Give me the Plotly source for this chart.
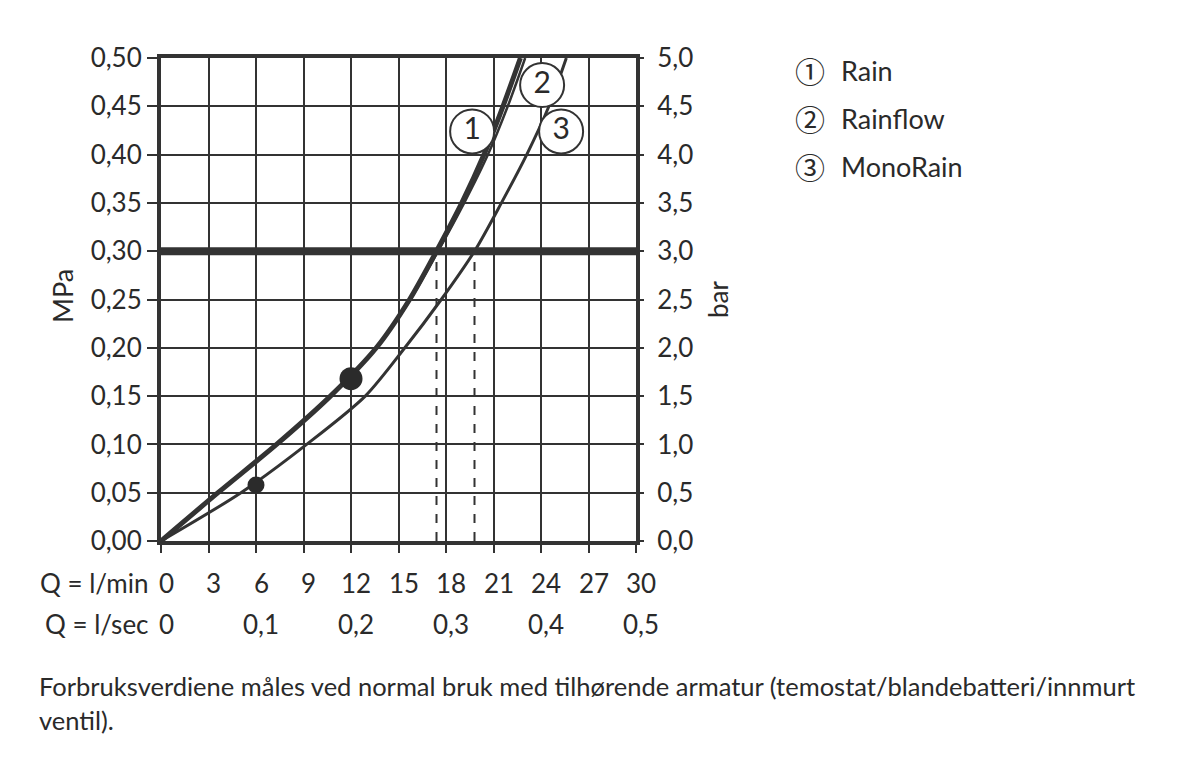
import numpy as np
import plotly.graph_objects as go

# ---------------- data ----------------
flow_lmin_ticks = [0, 3, 6, 9, 12, 15, 18, 21, 24, 27, 30]
flow_lsec_pos = [0, 6, 12, 18, 24, 30]
flow_lsec_labels = ["0", "0,1", "0,2", "0,3", "0,4", "0,5"]
mpa_ticks = [0, 0.05, 0.10, 0.15, 0.20, 0.25, 0.30, 0.35, 0.40, 0.45, 0.50]
mpa_labels = ["0,00", "0,05", "0,10", "0,15", "0,20", "0,25", "0,30", "0,35", "0,40", "0,45", "0,50"]
bar_ticks = [0, 0.5, 1.0, 1.5, 2.0, 2.5, 3.0, 3.5, 4.0, 4.5, 5.0]
bar_labels = ["0,0", "0,5", "1,0", "1,5", "2,0", "2,5", "3,0", "3,5", "4,0", "4,5", "5,0"]

rain_q = [0, 3.6, 7.3, 10.7, 13.6, 15.7, 17.4, 19.0, 20.4, 21.6, 22.7]
rain_p = [0, 0.05, 0.10, 0.15, 0.20, 0.25, 0.30, 0.35, 0.40, 0.45, 0.50]
rainflow_q = [0, 3.6, 7.3, 10.7, 13.6, 15.75, 17.5, 19.15, 20.65, 21.9, 23.0]
rainflow_p = [0, 0.05, 0.10, 0.15, 0.20, 0.25, 0.30, 0.35, 0.40, 0.45, 0.50]
monorain_q = [0, 5.05, 9.2, 12.9, 15.4, 17.7, 19.8, 21.5, 23.1, 24.5, 25.6]
monorain_p = [0, 0.05, 0.10, 0.15, 0.20, 0.25, 0.30, 0.35, 0.40, 0.45, 0.50]

dot_q = [12.0, 6.0]
dot_p = [0.168, 0.058]
dot_size = [23, 17]

label_q = [19.65, 24.07, 25.27]
label_p = [0.424, 0.472, 0.424]
label_text = ["1", "2", "3"]

legend_symbols = ["①", "②", "③"]
legend_names = ["Rain", "Rainflow", "MonoRain"]

ref_pressure = 0.30
footnote_lines = [
    "Forbruksverdiene måles ved normal bruk med tilhørende armatur (temostat/blandebatteri/innmurt",
    "ventil).",
]

# ---------------- geometry helpers ----------------
W, H = 1200, 765
PL, PR, PT, PB = 161, 636, 58, 541  # plot area in pixels


def px_x(px):
    return (px - PL) / (PR - PL)


def px_y(py):
    return (PB - py) / (PB - PT)


INK = "#333333"
TXT = "#2a2a2a"
FONT = "Lato"

fig = go.Figure()

# curves
fig.add_trace(go.Scatter(x=monorain_q, y=monorain_p, mode="lines",
                         line=dict(color=INK, width=3, shape="spline", smoothing=0.8),
                         hoverinfo="skip", showlegend=False))
fig.add_trace(go.Scatter(x=rainflow_q, y=rainflow_p, mode="lines",
                         line=dict(color=INK, width=2.5, shape="spline", smoothing=0.8),
                         hoverinfo="skip", showlegend=False))
fig.add_trace(go.Scatter(x=rain_q, y=rain_p, mode="lines",
                         line=dict(color=INK, width=5, shape="spline", smoothing=0.8),
                         hoverinfo="skip", showlegend=False))

# dots
fig.add_trace(go.Scatter(x=dot_q, y=dot_p, mode="markers",
                         marker=dict(color="#2b2b2b", size=dot_size, opacity=1, line=dict(width=0)),
                         hoverinfo="skip", showlegend=False))

# circled labels
fig.add_trace(go.Scatter(x=label_q, y=label_p, mode="markers+text", text=label_text,
                         textposition="middle center",
                         textfont=dict(family=FONT, size=30, color=TXT),
                         marker=dict(color="white", size=44, opacity=1, line=dict(color=INK, width=2)),
                         hoverinfo="skip", showlegend=False, cliponaxis=False))

# invisible trace for right axis
fig.add_trace(go.Scatter(x=[0], y=[0], yaxis="y2", mode="markers",
                         marker=dict(opacity=0), hoverinfo="skip", showlegend=False))

# reference pressure line and dashed flow markers
fig.add_shape(type="line", xref="x", yref="y", x0=0, x1=30, y0=ref_pressure, y1=ref_pressure,
              line=dict(color=INK, width=8), layer="above")
for q_arr, p_arr in [(rain_q, rain_p), (monorain_q, monorain_p)]:
    qx = float(np.interp(ref_pressure, p_arr, q_arr))
    fig.add_shape(type="line", xref="x", yref="y", x0=qx, x1=qx, y0=0, y1=ref_pressure,
                  line=dict(color=INK, width=2, dash="dash"), layer="below")

annotations = []
TICKF = dict(family=FONT, size=26, color=TXT)
# x tick label rows
for q in flow_lmin_ticks:
    annotations.append(dict(x=q, y=px_y(583), xref="x", yref="paper", text=str(q),
                            xanchor="center", yanchor="middle",
                            showarrow=False, xshift=5, font=TICKF))
for q, lab in zip(flow_lsec_pos, flow_lsec_labels):
    annotations.append(dict(x=q, y=px_y(624), xref="x", yref="paper", text=lab,
                            xanchor="center", yanchor="middle",
                            showarrow=False, xshift=5, font=TICKF))
annotations.append(dict(x=px_x(151), y=px_y(583), xref="paper", yref="paper", text="Q = l/min",
                        xanchor="right", yanchor="middle", showarrow=False, font=TICKF))
annotations.append(dict(x=px_x(151), y=px_y(624), xref="paper", yref="paper", text="Q = l/sec",
                        xanchor="right", yanchor="middle", showarrow=False, font=TICKF))
# axis titles
annotations.append(dict(x=px_x(62), y=px_y(296), xref="paper", yref="paper", text="MPa",
                        xanchor="center", yanchor="middle",
                        textangle=-90, showarrow=False, font=dict(family=FONT, size=27, color=TXT)))
annotations.append(dict(x=px_x(718), y=px_y(300), xref="paper", yref="paper", text="bar",
                        xanchor="center", yanchor="middle",
                        textangle=-90, showarrow=False, font=dict(family=FONT, size=26, color=TXT)))
# legend
for i, (sym, name) in enumerate(zip(legend_symbols, legend_names)):
    yy = px_y(70 + 48 * i)
    annotations.append(dict(x=px_x(810), y=yy, xref="paper", yref="paper", text=sym,
                            xanchor="center", yanchor="middle",
                            showarrow=False, font=dict(family="Noto Sans CJK JP", size=30, color=TXT)))
    annotations.append(dict(x=px_x(839), y=yy, xref="paper", yref="paper", text=name,
                            xanchor="left", yanchor="middle",
                            showarrow=False, font=dict(family=FONT, size=27, color=TXT)))
# footnote
for i, line in enumerate(footnote_lines):
    annotations.append(dict(x=px_x(37), y=px_y(686 + 34 * i), xref="paper", yref="paper", text=line,
                            xanchor="left", yanchor="middle",
                            showarrow=False, font=dict(family=FONT, size=25.5, color=TXT)))

fig.update_layout(
    width=W, height=H, autosize=False,
    margin=dict(l=PL, r=W - PR, t=PT, b=H - PB, pad=0),
    paper_bgcolor="white", plot_bgcolor="white",
    font=dict(family=FONT, size=25, color=TXT),
    showlegend=False,
    annotations=annotations,
    xaxis=dict(range=[0, 30], tickvals=flow_lmin_ticks, showticklabels=False,
               ticks="outside", ticklen=8, tickwidth=2, tickcolor=INK,
               showgrid=True, gridcolor=INK, gridwidth=2, zeroline=False,
               showline=True, linecolor=INK, linewidth=4, mirror=True, fixedrange=True),
    yaxis=dict(range=[0, 0.5], tickvals=mpa_ticks, ticktext=mpa_labels,
               ticks="outside", ticklen=10, tickwidth=2, tickcolor=INK,
               tickfont=dict(family=FONT, size=26, color=TXT),
               showgrid=True, gridcolor=INK, gridwidth=2, zeroline=False,
               showline=True, linecolor=INK, linewidth=4, mirror=True, fixedrange=True),
    yaxis2=dict(range=[0, 5], tickvals=bar_ticks, ticktext=bar_labels, overlaying="y", side="right",
                ticks="outside", ticklen=7, tickwidth=2, tickcolor=INK, ticklabelstandoff=8,
                tickfont=dict(family=FONT, size=26, color=TXT),
                showgrid=False, zeroline=False, showline=False, fixedrange=True),
)

fig.write_html("out.html")
